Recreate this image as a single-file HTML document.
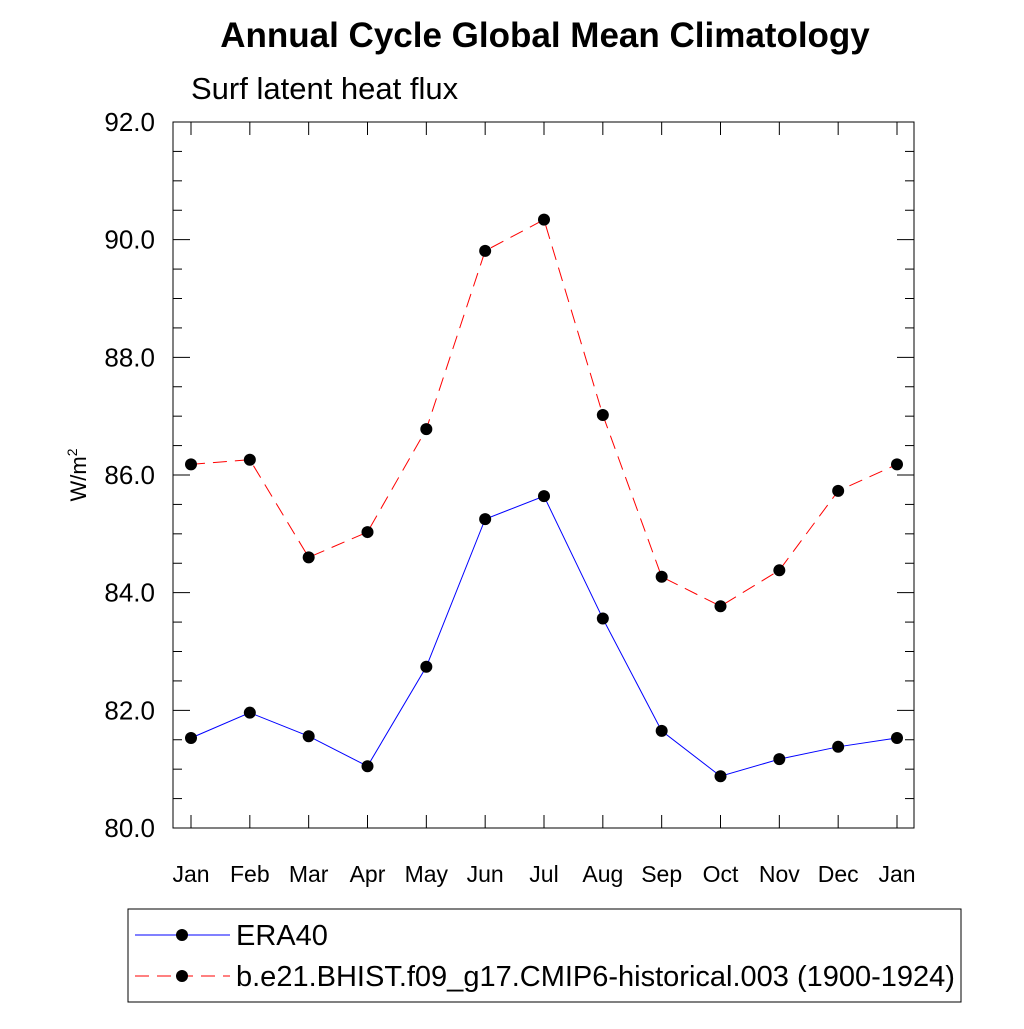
<!DOCTYPE html>
<html><head><meta charset="utf-8"><style>
body{margin:0;background:#fff}
svg text{font-family:"Liberation Sans",Arial,sans-serif}
</style></head><body>
<svg id="c" width="1024" height="1024" xmlns="http://www.w3.org/2000/svg">
<text x="545" y="47" font-size="35" font-weight="bold" text-anchor="middle">Annual Cycle Global Mean Climatology</text>
<text x="191" y="99" font-size="31">Surf latent heat flux</text>
<g id="axes"></g>
<g id="series"></g>
<text transform="translate(86,475) rotate(-90)" font-size="22" text-anchor="middle">W/m<tspan dy="-9" font-size="14">2</tspan></text>
<g>
<rect x="128" y="909" width="833" height="93" fill="none" stroke="#000" stroke-width="1"/>
<g>
<line x1="135" y1="935" x2="230" y2="935" stroke="#00f" stroke-width="1"/>
<circle cx="182" cy="935" r="6" fill="#000"/>
<text x="236" y="945" font-size="29">ERA40</text></g>
<g>
<line x1="135" y1="976" x2="230" y2="976" stroke="#f00" stroke-width="1" stroke-dasharray="14,8"/>
<circle cx="182" cy="976" r="6" fill="#000"/>
<text x="236" y="986" font-size="29">b.e21.BHIST.f09_g17.CMIP6-historical.003 (1900-1924)</text></g>
</g>
</svg>
<script>
const months=["Jan","Feb","Mar","Apr","May","Jun","Jul","Aug","Sep","Oct","Nov","Dec","Jan"];
const era40=[81.53,81.96,81.56,81.05,82.74,85.25,85.64,83.56,81.65,80.88,81.17,81.38,81.53];
const cmip6=[86.18,86.26,84.6,85.03,86.78,89.81,90.34,87.02,84.27,83.77,84.38,85.73,86.18];
const yTicks=[80,82,84,86,88,90,92];
const NS="http://www.w3.org/2000/svg";
const L=173,R=914,T=122,B=828,x0=191,x1=897,ymin=80,ymax=92;
const xs=i=>x0+(x1-x0)*i/(months.length-1);
const ys=v=>B-(v-ymin)/(ymax-ymin)*(B-T);
function mk(tag,at,parent){const e=document.createElementNS(NS,tag);for(const k in at)e.setAttribute(k,at[k]);parent.appendChild(e);return e;}
const ax=document.getElementById('axes');
const fr=mk('rect',{x:L,y:T,width:R-L,height:B-T,fill:'none',stroke:'#000','stroke-width':1},ax);


for(let v=ymin;v<=ymax+1e-9;v+=0.5){
  const y=ys(v),major=Math.abs(v/2-Math.round(v/2))<1e-9,len=major?17:9;
  mk('line',{x1:L,y1:y,x2:L+len,y2:y,stroke:'#000'},ax);
  mk('line',{x1:R,y1:y,x2:R-len,y2:y,stroke:'#000'},ax);
}
yTicks.forEach(v=>{
  const t=mk('text',{x:155,y:ys(v)+9,'font-size':26,'text-anchor':'end'},ax);
  t.textContent=v.toFixed(1);
  
  
});
months.forEach((m,i)=>{
  const x=xs(i);
  mk('line',{x1:x,y1:B,x2:x,y2:B-13,stroke:'#000'},ax);
  mk('line',{x1:x,y1:T,x2:x,y2:T+13,stroke:'#000'},ax);
  const t=mk('text',{x:x,y:882,'font-size':23,'text-anchor':'middle'},ax);
  t.textContent=m;
  
  
});
const sg=document.getElementById('series');
function draw(data,color,dash,name){
  const g=mk('g',{},sg);
  
  
  mk('polyline',{points:data.map((v,i)=>xs(i)+','+ys(v)).join(' '),fill:'none',stroke:color,'stroke-width':1,'stroke-dasharray':dash},g);
  data.forEach((v,i)=>{
    const c=mk('circle',{cx:xs(i),cy:ys(v),r:6,fill:'#000'},g);
    
    
  });
}
draw(cmip6,'#f00','14,8','series-cmip6');
draw(era40,'#00f','none','series-era40');
</script>
</body></html>
